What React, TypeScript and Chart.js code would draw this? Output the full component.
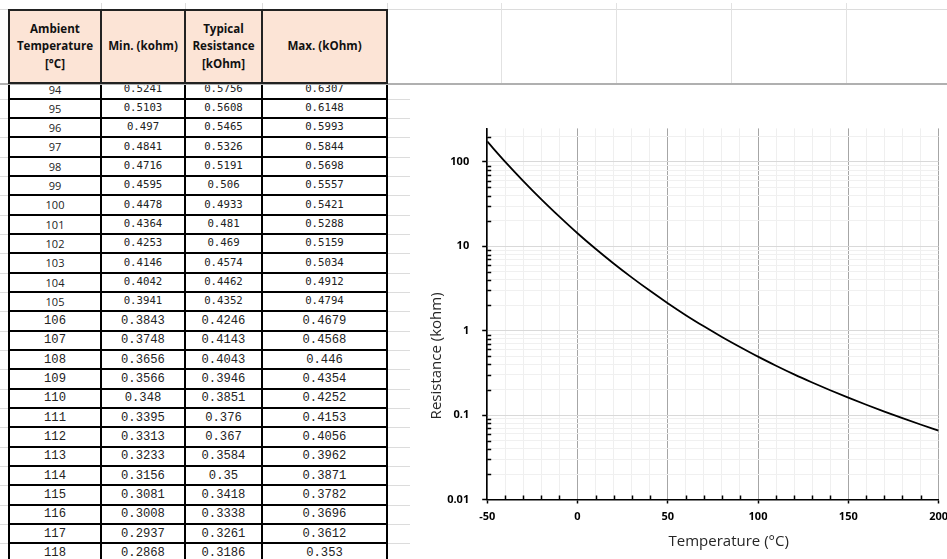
import React, { useEffect, useRef } from "react";
import { Chart, registerables } from "chart.js";

Chart.register(...registerables);

// ---------- table data ----------
const tableTemps = [94, 95, 96, 97, 98, 99, 100, 101, 102, 103, 104, 105, 106, 107, 108, 109, 110, 111, 112, 113, 114, 115, 116, 117, 118];
const tableMin = [0.5241, 0.5103, 0.497, 0.4841, 0.4716, 0.4595, 0.4478, 0.4364, 0.4253, 0.4146, 0.4042, 0.3941, 0.3843, 0.3748, 0.3656, 0.3566, 0.348, 0.3395, 0.3313, 0.3233, 0.3156, 0.3081, 0.3008, 0.2937, 0.2868];
const tableTypical = [0.5756, 0.5608, 0.5465, 0.5326, 0.5191, 0.506, 0.4933, 0.481, 0.469, 0.4574, 0.4462, 0.4352, 0.4246, 0.4143, 0.4043, 0.3946, 0.3851, 0.376, 0.367, 0.3584, 0.35, 0.3418, 0.3338, 0.3261, 0.3186];
const tableMax = [0.6307, 0.6148, 0.5993, 0.5844, 0.5698, 0.5557, 0.5421, 0.5288, 0.5159, 0.5034, 0.4912, 0.4794, 0.4679, 0.4568, 0.446, 0.4354, 0.4252, 0.4153, 0.4056, 0.3962, 0.3871, 0.3782, 0.3696, 0.3612, 0.353];
const tableHeaders = [["Ambient", "Temperature", "[°C]"], ["Min. (kohm)"], ["Typical", "Resistance", "[kOhm]"], ["Max. (kOhm)"]];

// ---------- chart data ----------
const curveTemps = [-50, -40, -30, -20, -10, 0, 10, 20, 30, 40, 50, 60, 70, 80, 90, 100, 110, 120, 130, 140, 150, 160, 170, 180, 190, 200];
const curveResistance = [175, 100.5, 59.5, 36.1, 22.5, 14.3, 9.36, 6.27, 4.29, 2.99, 2.12, 1.53, 1.128, 0.844, 0.642, 0.4933, 0.3851, 0.304, 0.2437, 0.1971, 0.161, 0.1327, 0.1101, 0.092, 0.0774, 0.0656];
const xMajorTicks = [-50, 0, 50, 100, 150, 200];
const yMajorTicks = [0.01, 0.1, 1, 10, 100];
const xTitle = "Temperature (°C)";
const yTitle = "Resistance (kohm)";

// ---------- layout constants ----------
const colX = [9, 101, 185, 262, 387];
const headerTop = 9;
const headerBottom = 83;
const rowH = 19.333;
const firstRowTop = 79.33;
const courierFrom = 106;
const sideGridRight = 410;
const rightCols = [501, 616, 731, 846];
const chartBoxWidth = 545;

const isDecade = (v: number) => yMajorTicks.some((m) => Math.abs(v / m - 1) < 1e-6);

const minorTicksPlugin = {
  id: "minorTicks",
  afterDraw(chart: any) {
    const xs = chart.scales.x;
    const ys = chart.scales.y;
    const ctx = chart.ctx;
    ctx.save();
    ctx.strokeStyle = "#000";
    ctx.lineWidth = 1.5;
    ctx.beginPath();
    xs.ticks.forEach((t: any) => {
      if (!xMajorTicks.includes(t.value)) {
        const px = Math.round(xs.getPixelForValue(t.value)) + 0.5;
        ctx.moveTo(px, ys.bottom);
        ctx.lineTo(px, ys.bottom - 4);
      }
    });
    ys.ticks.forEach((t: any) => {
      if (!isDecade(t.value)) {
        const py = Math.round(ys.getPixelForValue(t.value)) + 0.5;
        ctx.moveTo(xs.left, py);
        ctx.lineTo(xs.left + 4, py);
      }
    });
    ctx.stroke();
    ctx.restore();
  },
};

const titlesPlugin = {
  id: "axisTitles",
  afterDraw(chart: any) {
    const { ctx, chartArea: a } = chart;
    ctx.save();
    ctx.font = "15px 'Open Sans'";
    ctx.fillStyle = "#262626";
    ctx.textAlign = "center";
    ctx.textBaseline = "middle";
    ctx.fillText(xTitle, a.left + 0.535 * (a.right - a.left), a.bottom + 42.5);
    ctx.translate(a.left - 50, a.top + 0.613 * (a.bottom - a.top));
    ctx.rotate(-Math.PI / 2);
    ctx.fillText(yTitle, 0, 0);
    ctx.restore();
  },
};

function ResistanceChart() {
  const ref = useRef<HTMLCanvasElement>(null);
  useEffect(() => {
    const tickFont = { family: "'Open Sans'", size: 11, weight: "bold" as const };
    const chart = new Chart(ref.current as HTMLCanvasElement, {
      type: "line",
      data: {
        datasets: [
          {
            data: curveTemps.map((t, i) => ({ x: t, y: curveResistance[i] })),
            borderColor: "#000",
            borderWidth: 1.8,
            pointRadius: 0,
            fill: false,
            cubicInterpolationMode: "monotone",
          },
        ],
      },
      options: {
        animation: false,
        responsive: true,
        maintainAspectRatio: false,
        layout: { padding: { top: 43.4, right: 0, left: 0, bottom: 0 } },
        plugins: { legend: { display: false }, tooltip: { enabled: false } },
        scales: {
          x: {
            type: "linear",
            min: -50,
            max: 200,
            ticks: {
              stepSize: 10,
              autoSkip: false,
              maxRotation: 0,
              padding: 7,
              font: tickFont,
              color: "#000",
              callback: (v: any) => (xMajorTicks.includes(Number(v)) ? String(v) : ""),
            },
            grid: {
              color: (c: any) => (c.tick && xMajorTicks.includes(c.tick.value) ? "#a6a6a6" : "#efefef"),
              lineWidth: 1,
              drawTicks: true,
              tickLength: 4,
              tickWidth: 1.5,
              tickColor: (c: any) => (c.tick && xMajorTicks.includes(c.tick.value) ? "#000" : "rgba(0,0,0,0)"),
            },
            border: { color: "#000", width: 1.5 },
            afterFit: (s: any) => {
              s.height = 59.5;
            },
          },
          y: {
            type: "logarithmic",
            min: 0.01,
            max: 250,
            afterBuildTicks: (s: any) => {
              s.ticks = s.ticks.filter((t: any) => {
                const e = Math.floor(Math.log10(t.value) + 1e-9);
                const sig = t.value / Math.pow(10, e);
                return Math.abs(sig - Math.round(sig)) < 1e-6;
              });
            },
            ticks: {
              autoSkip: false,
              padding: 13,
              font: tickFont,
              color: "#000",
              callback: (v: any) => {
                const m = yMajorTicks.find((k) => Math.abs(Number(v) / k - 1) < 1e-6);
                return m !== undefined ? String(m) : "";
              },
            },
            grid: {
              color: (c: any) => (c.tick && isDecade(c.tick.value) ? "#d9d9d9" : "#f0f0f0"),
              lineWidth: 1,
              drawTicks: true,
              tickLength: 5,
              tickWidth: 1.5,
              tickColor: (c: any) => (c.tick && isDecade(c.tick.value) ? "#000" : "rgba(0,0,0,0)"),
            },
            border: { color: "#000", width: 1.5 },
            afterFit: (s: any) => {
              s.width = 77.2;
            },
          },
        },
      } as any,
      plugins: [minorTicksPlugin, titlesPlugin],
    });
    return () => chart.destroy();
  }, []);
  return (
    <div style={{ position: "absolute", left: sideGridRight, top: 85, width: chartBoxWidth, height: 474, background: "#fff" }}>
      <canvas ref={ref} />
    </div>
  );
}

function Line(p: { x: number; y: number; w: number; h: number; c: string }) {
  return <div style={{ position: "absolute", left: p.x, top: p.y, width: p.w, height: p.h, background: p.c }} />;
}

export default function App() {
  const rows = tableTemps.map((t, i) => ({ t, vals: [t, tableMin[i], tableTypical[i], tableMax[i]] }));
  const boundaries: number[] = [];
  for (let k = 1; k <= rows.length; k++) boundaries.push(firstRowTop + k * rowH);

  return (
    <div
      style={{
        position: "fixed",
        left: 0,
        top: 0,
        width: 947,
        height: 559,
        overflow: "hidden",
        background: "#fff",
        fontFamily: "'Open Sans', sans-serif",
      }}
    >
      {/* spreadsheet light gridlines */}
      <Line x={0} y={headerTop} w={947} h={1} c="#dcdcdc" />
      {colX.slice(1).map((x, i) => (
        <Line key={"ts" + i} x={x} y={3} w={1} h={headerTop - 3} c="#dcdcdc" />
      ))}
      {rightCols.map((x, i) => (
        <Line key={"rc" + i} x={x} y={3} w={1} h={headerBottom - 3} c="#e2e2e2" />
      ))}
      {boundaries.map((y, i) => (
        <React.Fragment key={"sb" + i}>
          <Line x={0} y={Math.round(y)} w={colX[0]} h={1} c="#dcdcdc" />
          <Line x={colX[4]} y={Math.round(y)} w={sideGridRight - colX[4]} h={1} c="#dcdcdc" />
        </React.Fragment>
      ))}

      {/* data rows */}
      <div style={{ position: "absolute", left: 0, top: headerBottom, width: sideGridRight, height: 559 - headerBottom, overflow: "hidden" }}>
        {rows.map((r, i) => {
          const top = firstRowTop + i * rowH - headerBottom;
          const courier = r.t >= courierFrom;
          return (
            <React.Fragment key={"r" + i}>
              {r.vals.map((v, j) => (
                <div
                  key={j}
                  style={{
                    position: "absolute",
                    left: colX[j],
                    top,
                    width: colX[j + 1] - colX[j],
                    height: rowH,
                    display: "flex",
                    alignItems: "center",
                    justifyContent: "center",
                    color: "#222",
                    fontFamily: courier ? "'Liberation Mono', monospace" : j === 0 ? "'Open Sans', sans-serif" : "'DejaVu Sans Mono', monospace",
                    fontSize: courier ? 12.2 : j === 0 ? 11 : 10.7,
                    lineHeight: 1,
                  }}
                >
                  {String(v)}
                </div>
              ))}
              <Line x={colX[0]} y={Math.round(top + rowH) - 1} w={colX[4] - colX[0] + 1} h={2} c="#000" />
            </React.Fragment>
          );
        })}
        {colX.map((x, i) => (
          <Line key={"v" + i} x={x - 1} y={0} w={2} h={559} c="#000" />
        ))}
      </div>

      {/* freeze-pane line */}
      <Line x={0} y={headerBottom} w={947} h={2} c="#b0b0b0" />

      {/* header */}
      <div
        style={{
          position: "absolute",
          left: colX[0] - 1,
          top: headerTop,
          width: colX[4] - colX[0] + 2,
          height: headerBottom - headerTop + 1,
          background: "#fce4d6",
          boxSizing: "border-box",
          border: "2px solid #222",
        }}
      />
      {tableHeaders.map((lines, j) => (
        <div
          key={"h" + j}
          style={{
            position: "absolute",
            left: colX[j],
            top: headerTop,
            width: colX[j + 1] - colX[j],
            height: headerBottom - headerTop,
            display: "flex",
            flexDirection: "column",
            alignItems: "center",
            justifyContent: "center",
            fontWeight: "bold",
            fontSize: 11.6,
            lineHeight: "17.3px",
            color: "#111",
            whiteSpace: "nowrap",
          }}
        >
          {lines.map((l, k) => (
            <div key={k}>{l}</div>
          ))}
        </div>
      ))}
      {colX.slice(1, 4).map((x, i) => (
        <Line key={"hv" + i} x={x - 1} y={headerTop} w={2} h={headerBottom - headerTop} c="#222" />
      ))}

      <ResistanceChart />
    </div>
  );
}
